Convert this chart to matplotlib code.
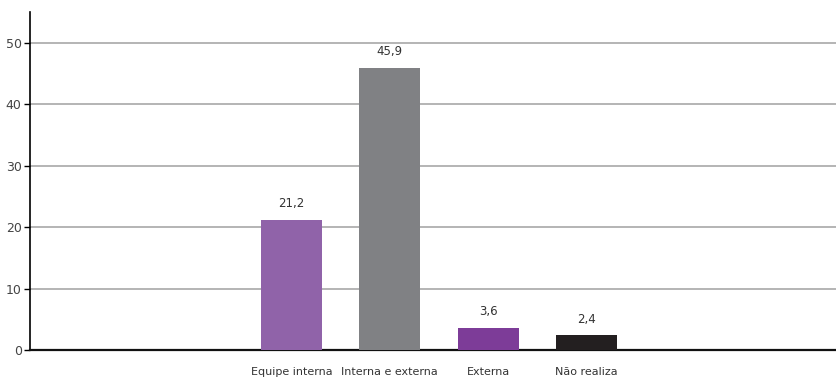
import matplotlib.pyplot as plt
import numpy as np

plt.rcParams['font.family'] = ['DejaVu Sans']

# Data
categories = ['Equipe interna', 'Interna e externa', 'Externa', 'Não realiza']
values = [21.2, 45.9, 3.6, 2.4]
value_labels = ['21,2', '45,9', '3,6', '2,4']
colors = ['#9063a9', '#808184', '#7d3c98', '#231f20']
yticks = [0, 10, 20, 30, 40, 50]

fig = plt.figure(figsize=(8.37, 3.77), dpi=100)
ax = fig.add_axes([30 / 837, 27 / 377, 807 / 837, 338 / 377])

x = np.arange(len(categories))
ax.bar(x, values, width=0.62, color=colors, zorder=3)

for xi, v, lab in zip(x, values, value_labels):
    ax.annotate(lab, (xi, v), xytext=(0, 7), textcoords='offset points',
                ha='center', va='bottom', fontsize=8.5, color='#333333')

ax.set_xlim(-2.66, 5.55)
ax.set_ylim(0, 55)
ax.set_yticks(yticks)
ax.set_yticklabels([str(t) for t in yticks], fontsize=9, color='#444444')
ax.set_xticks(x)
ax.set_xticklabels(categories, fontsize=8, color='#333333')
ax.tick_params(axis='x', length=0, pad=12)
ax.tick_params(axis='y', length=4, width=1, color='black', pad=2)

# horizontal gridlines
for t in yticks[1:]:
    ax.axhline(t, color='#a8a8a8', lw=1.2, zorder=1)

for s in ['top', 'right']:
    ax.spines[s].set_visible(False)
ax.spines['left'].set_color('black')
ax.spines['left'].set_linewidth(1.2)
ax.spines['bottom'].set_color('#111111')
ax.spines['bottom'].set_linewidth(1.6)

fig.savefig('out.png', dpi=100)
